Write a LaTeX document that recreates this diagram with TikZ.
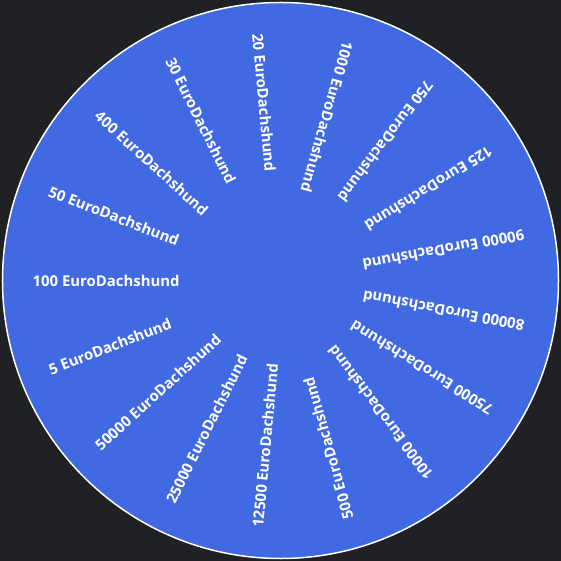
\documentclass[tikz,border=0pt]{standalone}
\usepackage{fontspec}
\setmainfont{Open Sans}
\definecolor{bgdark}{HTML}{202124}
\definecolor{wheelblue}{HTML}{4169E1}
\tikzset{
  wheel/.style={fill=wheelblue, draw=white, line width=1.5pt},
  prize/.style={text=white, font=\bfseries\fontsize{14.9}{16}\selectfont, inner sep=0pt, anchor=west}
}
\begin{document}
\begin{tikzpicture}[x=1pt,y=1pt]
  \fill[bgdark] (-280.5,-280.5) rectangle (280.5,280.5);
  \useasboundingbox (-280.5,-280.5) rectangle (280.5,280.5);
  \node[wheel, circle, minimum size=556pt, inner sep=0pt] (w) at (0,0) {};
  \foreach \lab [count=\k from 0] in {100,50,400,30,20,1000,750,125,90000,80000,75000,10000,500,12500,25000,50000,5} {
    \pgfmathsetmacro{\ang}{180-\k*360/17}
    \node[prize, rotate=\ang+180] (p\k) at (\ang:248) {\lab\ EuroDachshund};
  }
\end{tikzpicture}
\end{document}
